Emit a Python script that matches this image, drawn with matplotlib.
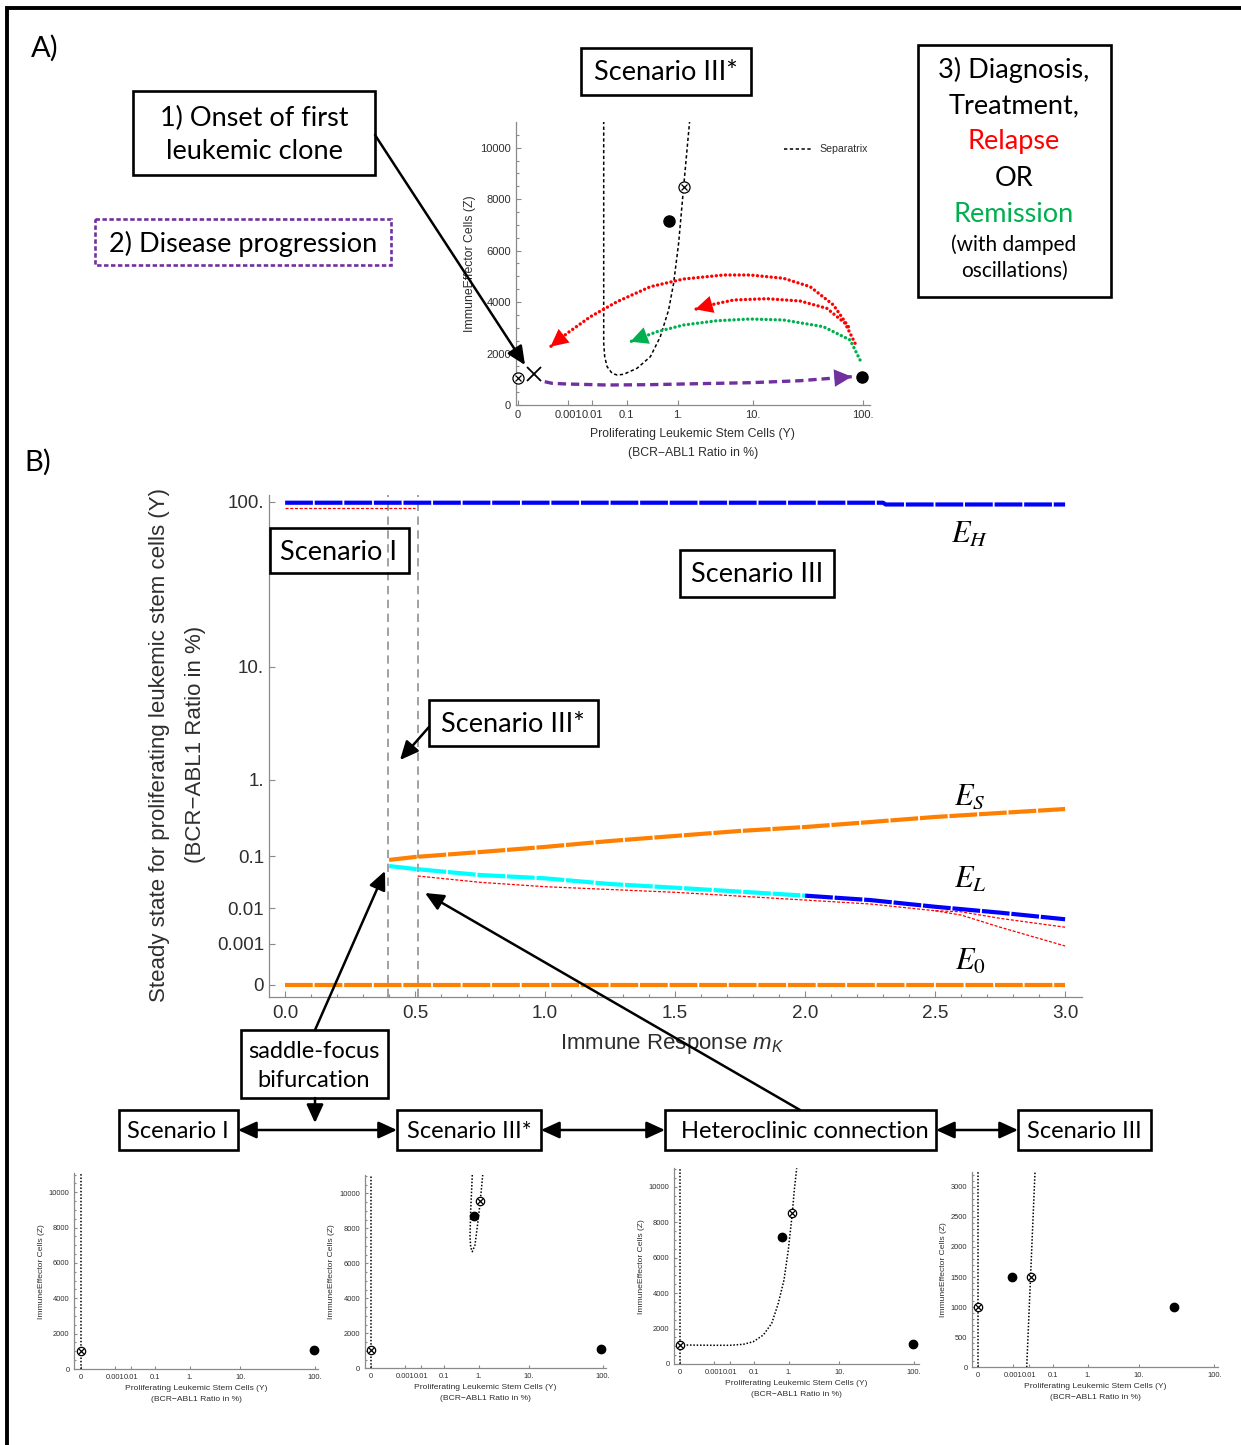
import numpy as np
import matplotlib.pyplot as plt
from matplotlib.patches import Rectangle
from matplotlib.ticker import FixedLocator, MultipleLocator, NullLocator

plt.rcParams['font.family'] = ['Liberation Sans', 'DejaVu Sans']
plt.rcParams['mathtext.fontset'] = 'custom'
plt.rcParams['mathtext.rm'] = 'Liberation Sans'
plt.rcParams['mathtext.it'] = 'Liberation Sans:italic'
plt.rcParams['lines.scale_dashes'] = False

W, H = 1241, 1445
BOX_FONT = ['Lato', 'DejaVu Sans']
GRAY = '#8a8a8a'
INK = '#2e2e2e'
ORANGE = '#ff8000'
PURPLE = '#7030a0'
GREEN = '#00b050'
RED = '#ff0000'

# ---- B) steady states of Y versus immune response m_K ----
mk_EH = [0.0, 0.5, 1.0, 1.5, 2.0, 2.3, 2.31, 2.5, 3.0]
Y_EH = [99, 99, 99, 99, 99, 99, 97, 97, 97]
mk_EH_unstable = [0.0, 0.25, 0.5]
Y_EH_unstable = [93, 93, 93]
mk_ES = [0.4, 0.5, 0.75, 1.0, 1.25, 1.5, 1.75, 2.0, 2.25, 2.5, 2.75, 3.0]
Y_ES = [0.087, 0.097, 0.116, 0.139, 0.170, 0.201, 0.236, 0.267, 0.311, 0.362, 0.407, 0.456]
mk_EL_saddle = [0.4, 0.5, 0.75, 1.0, 1.25, 1.5, 1.75, 2.0]
Y_EL_saddle = [0.0689, 0.0613, 0.0480, 0.0418, 0.0327, 0.0277, 0.0231, 0.0191]
mk_EL_focus = [2.0, 2.25, 2.5, 2.75, 3.0]
Y_EL_focus = [0.0191, 0.0154, 0.0109, 0.0079, 0.0054]
mk_EL_lo_a = [0.51, 0.75, 1.0, 1.5, 2.0, 2.25, 2.5, 2.6, 2.75, 3.0]
Y_EL_lo_a = [0.0461, 0.0352, 0.029, 0.0224, 0.0154, 0.0126, 0.0088, 0.0083, 0.0057, 0.0033]
mk_EL_lo_b = [2.5, 2.6, 2.75, 3.0]
Y_EL_lo_b = [0.0088, 0.0069, 0.0033, 0.00085]
mk_E0 = [0.0, 1.0, 2.0, 3.0]
Y_E0 = [1e-5, 1e-5, 1e-5, 1e-5]
mk_bifurcation = [0.397, 0.51]

ss_ticks = [1e-5, 0.001, 0.01, 0.1, 1, 10, 100]
ss_ticklabels = ['0', '0.001', '0.01', '0.1', '1.', '10.', '100.']

# ---- phase planes (Y, Z) ----
phase_ticks = [0, 0.001, 0.01, 0.1, 1, 10, 100]
phase_ticklabels = ['0', '0.001', '0.01', '0.1', '1.', '10.', '100.']

# A) scenario III*
sepA_Y = [0.0241, 0.0241, 0.0258, 0.0304, 0.0420, 0.0573, 0.0841, 0.171, 0.323, 0.498,
          0.699, 0.850, 1.027, 1.233, 1.422, 1.525]
sepA_Z = [11500, 2410, 1877, 1489, 1232, 1166, 1193, 1426, 1877, 2654,
          3692, 4730, 6284, 8461, 10171, 11010]
saddleA_Y = [0, 1.233]
saddleA_Z = [1061, 8461]
stableA_Y = [0.719, 98.8]
stableA_Z = [7151, 1100]
onset_Y = [1.1e-6]
onset_Z = [1205]
progression_Y = [2.4e-5, 1.0e-4, 8.8e-4, 0.0304, 0.323, 2.19, 9.33, 29.9, 81.9]
progression_Z = [906, 843, 816, 777, 790, 830, 867, 944, 1100]
relapse1_Y = [77.1, 58.4, 36.9, 20.8, 9.33, 4.49, 1.233, 0.323, 0.0573, 0.00882, 8.8e-4, 7.5e-5]
relapse1_Z = [3043, 3887, 4598, 4924, 5052, 5052, 4897, 4598, 4015, 3432, 2787, 2266]
relapse2_Y = [86.9, 72.6, 51.4, 29.9, 14.1, 5.97, 3.01, 1.85]
relapse2_Z = [2398, 3175, 3758, 4042, 4131, 4081, 3887, 3719]
remission_Y = [94.9, 79.5, 48.1, 20.8, 9.33, 3.70, 1.233, 0.433, 0.121]
remission_Z = [1749, 2526, 3043, 3304, 3342, 3276, 3109, 2849, 2460]

# bottom row: scenario I, III*, heteroclinic connection, III
axis_Y = [0, 0]
axis_Z = [0, 12000]
s1_saddle_Y, s1_saddle_Z = [0], [1036]
s1_stable_Y, s1_stable_Z = [98], [1092]

s2_sep_Y = [0.696, 0.633, 0.607, 0.633, 0.696, 0.815, 0.930, 1.040, 1.142, 1.252]
s2_sep_Z = [11046, 9046, 7520, 6914, 6663, 7046, 8091, 9046, 10000, 11046]
s2_saddle_Y, s2_saddle_Z = [0, 1.081], [1046, 9577]
s2_stable_Y, s2_stable_Z = [0.783, 96], [8720, 1120]

s3_sep_Y = [0, 8.3e-4, 0.00953, 0.0392, 0.0946, 0.204, 0.363, 0.550, 0.771, 0.983, 1.223, 1.359, 1.54]
s3_sep_Z = [1072, 1055, 1055, 1111, 1258, 1636, 2296, 3424, 4738, 6430, 8500, 9814, 11038]
s3_saddle_Y, s3_saddle_Z = [0, 1.223], [1072, 8500]
s3_stable_Y, s3_stable_Z = [0.699, 98], [7180, 1128]

s4_sep_Y = [0.00742, 0.0192]
s4_sep_Z = [0, 3250]
s4_saddle_Y, s4_saddle_Z = [0, 0.0117], [1000, 1500]
s4_stable_Y, s4_stable_Z = [8.0e-4, 32.4], [1500, 1000]


def root6(v):
    v = np.asarray(v, dtype=float)
    return np.sign(v) * np.abs(v) ** (1 / 6)


def pow6(t):
    t = np.asarray(t, dtype=float)
    return np.sign(t) * np.abs(t) ** 6


fig = plt.figure(figsize=(W / 100, H / 100), dpi=100)


def px_axes(left, top, right, bottom):
    return fig.add_axes([left / W, 1 - bottom / H, (right - left) / W, (bottom - top) / H])


def style_axes(ax, fs, major, minor):
    for s in ('top', 'right'):
        ax.spines[s].set_visible(False)
    for s in ('left', 'bottom'):
        ax.spines[s].set_color(GRAY)
        ax.spines[s].set_linewidth(0.9)
    ax.tick_params(which='both', direction='in', color=GRAY, labelcolor=INK, labelsize=fs, width=0.8)
    ax.tick_params(which='major', length=major)
    ax.tick_params(which='minor', length=minor)
    ax.patch.set_visible(False)


def phase_axes(left, top, right, bottom, zero, per_root, per_k, zmajor, zminor,
               fs_tick, fs_lab, tick_len, xpad=3):
    ax = px_axes(left, top, right, bottom)
    ax.set_xscale('function', functions=(root6, pow6))
    ax.set_xlim(float(pow6((left - zero) / per_root)), float(pow6((right - zero) / per_root)))
    ax.set_ylim(0, (bottom - top) / per_k * 1000)
    ax.xaxis.set_major_locator(FixedLocator(phase_ticks))
    ax.set_xticklabels(phase_ticklabels)
    ax.xaxis.set_minor_locator(NullLocator())
    ax.yaxis.set_major_locator(MultipleLocator(zmajor))
    ax.yaxis.set_minor_locator(MultipleLocator(zminor))
    style_axes(ax, fs_tick, tick_len, tick_len * 0.6)
    ax.set_xlabel('Proliferating Leukemic Stem Cells (Y)\n(BCR\u2212ABL1 Ratio in %)',
                  fontsize=fs_lab, color=INK, linespacing=1.75, labelpad=xpad)
    ax.set_ylabel('ImmuneEffector Cells (Z)', fontsize=fs_lab, color=INK, labelpad=3)
    return ax


def saddle(ax, y, z, ms):
    ax.plot(y, z, 'o', ms=ms, mfc='white', mec='k', mew=0.9, clip_on=False, zorder=5)
    ax.plot(y, z, 'x', ms=ms * 0.62, mec='k', mew=0.9, clip_on=False, zorder=6)


def stable(ax, y, z, ms):
    ax.plot(y, z, 'o', ms=ms, color='k', clip_on=False, zorder=5)


def trajectory(ax, y, z, color, lw, dashes, capstyle):
    ax.plot(y, z, color=color, lw=lw, dashes=dashes, dash_capstyle=capstyle)
    ax.annotate('', xy=(y[-1], z[-1]), xytext=(y[-2], z[-2]),
                arrowprops=dict(arrowstyle='-|>,head_length=0.9,head_width=0.45', color=color,
                                lw=0, mutation_scale=14, shrinkA=0, shrinkB=0))


# ---------------- panel A ----------------
axA = phase_axes(515.7, 122, 870, 405, 517.5, 160.4, 25.73, 2000, 500, 8, 8.8, 3.5, xpad=6)
axA.plot(sepA_Y, sepA_Z, color='k', lw=1.1, dashes=(2.4, 1.8), label='Separatrix')
trajectory(axA, progression_Y, progression_Z, PURPLE, 2.4, (6, 3.5), 'butt')
trajectory(axA, relapse1_Y, relapse1_Z, RED, 2.4, (0.1, 3.2), 'round')
trajectory(axA, relapse2_Y, relapse2_Z, RED, 2.4, (0.1, 3.2), 'round')
trajectory(axA, remission_Y, remission_Z, GREEN, 2.4, (0.1, 3.2), 'round')
saddle(axA, saddleA_Y, saddleA_Z, 8)
stable(axA, stableA_Y, stableA_Z, 8)
axA.plot(onset_Y, onset_Z, 'x', ms=10, mec='k', mew=1.3, clip_on=False, zorder=6)
axA.legend(loc='upper left', bbox_to_anchor=(0.73, 0.955), frameon=False, fontsize=7.6,
           handlelength=2.8, handletextpad=0.6, labelcolor=INK)

# ---------------- panel B ----------------
axB = px_axes(269, 495, 1082, 997)
axB.set_yscale('function', functions=(root6, pow6))
axB.set_xlim(-0.062, 3.065)
axB.set_ylim(float(pow6(23 / 240.5)), float(pow6(525 / 240.5)))
axB.yaxis.set_major_locator(FixedLocator(ss_ticks))
axB.set_yticklabels(ss_ticklabels)
axB.yaxis.set_minor_locator(NullLocator())
axB.xaxis.set_major_locator(MultipleLocator(0.5))
axB.xaxis.set_minor_locator(MultipleLocator(0.1))
axB.xaxis.set_major_formatter('{x:.1f}')
style_axes(axB, 13.6, 4, 2.5)
axB.tick_params(axis='x', pad=6)


def band(x, y, color):
    axB.plot(x, y, color=color, lw=3.0, dashes=(20, 1.3), dash_capstyle='butt', zorder=3)


def thin(x, y):
    axB.plot(x, y, color=RED, lw=0.9, dashes=(2.2, 1.2), zorder=4)


for m in mk_bifurcation:
    axB.axvline(m, color='#9a9a9a', lw=1.3, dashes=(6, 4), zorder=1)
band(mk_EH, Y_EH, 'blue')
thin(mk_EH_unstable, Y_EH_unstable)
band(mk_ES, Y_ES, ORANGE)
band(mk_EL_saddle, Y_EL_saddle, 'cyan')
band(mk_EL_focus, Y_EL_focus, 'blue')
thin(mk_EL_lo_a, Y_EL_lo_a)
thin(mk_EL_lo_b, Y_EL_lo_b)
band(mk_E0, Y_E0, ORANGE)

# ---------------- bottom phase planes ----------------
small = dict(fs_tick=5.4, fs_lab=6.1, tick_len=2.5)
ax1 = phase_axes(74.3, 1173.3, 318, 1369, 80.7, 108.8, 17.67, 2000, 500, **small)
ax2 = phase_axes(365, 1175, 606, 1368.3, 371, 107.6, 17.5, 2000, 500, **small)
ax3 = phase_axes(674.3, 1168.3, 919, 1364, 680, 108.6, 17.73, 2000, 500, **small)
ax4 = phase_axes(972.3, 1171.7, 1218, 1367.3, 978.3, 109.6, 60.2, 500, 100, **small)
dots = (1.1, 1.3)
for ax in (ax1, ax2, ax3, ax4):
    ax.plot(axis_Y, axis_Z, color='k', lw=1.1, dashes=dots)
ax2.plot(s2_sep_Y, s2_sep_Z, color='k', lw=1.1, dashes=dots)
ax3.plot(s3_sep_Y, s3_sep_Z, color='k', lw=1.1, dashes=dots)
ax4.plot(s4_sep_Y, s4_sep_Z, color='k', lw=1.1, dashes=dots)
for ax, sy, sz, fy, fz in ((ax1, s1_saddle_Y, s1_saddle_Z, s1_stable_Y, s1_stable_Z),
                           (ax2, s2_saddle_Y, s2_saddle_Z, s2_stable_Y, s2_stable_Z),
                           (ax3, s3_saddle_Y, s3_saddle_Z, s3_stable_Y, s3_stable_Z),
                           (ax4, s4_saddle_Y, s4_saddle_Z, s4_stable_Y, s4_stable_Z)):
    saddle(ax, sy, sz, 6)
    stable(ax, fy, fz, 6)

# ---------------- overlay: frame, boxes, arrows, labels ----------------
ov = fig.add_axes([0, 0, 1, 1], zorder=10)
ov.set_xlim(0, W)
ov.set_ylim(H, 0)
ov.axis('off')

ov.plot([7, 7, W], [H, 8, 8], color='k', lw=2.8, solid_joinstyle='miter')


def frame(x0, y0, x1, y1, ec='k', ls='-'):
    ov.add_patch(Rectangle((x0, y0), x1 - x0, y1 - y0, fill=False, ec=ec, lw=1.9, ls=ls,
                           joinstyle='miter'))


def label(x, y, s, size, color='k', spacing=1.15):
    ov.text(x, y, s, ha='center', va='center', fontsize=size, color=color, family=BOX_FONT,
            linespacing=spacing)


def arrow(p0, p1, style='-|>'):
    ov.annotate('', xy=p1, xytext=p0,
                arrowprops=dict(arrowstyle=style + ',head_length=0.7,head_width=0.32', color='k',
                                lw=1.8, mutation_scale=16, shrinkA=0, shrinkB=0))


ov.text(45, 48, 'A)', ha='center', va='center', fontsize=21, family=BOX_FONT)
ov.text(38, 462, 'B)', ha='center', va='center', fontsize=21, family=BOX_FONT)

frame(133, 91, 375, 175)
label(254, 135, '1) Onset of first\nleukemic clone', 19.5, spacing=1.38)
frame(95, 219, 391, 265, ec=PURPLE, ls=(0, (3.2, 1.8)))
label(243, 244, '2) Disease progression', 19.5)
frame(581, 48, 751, 95)
label(666, 73, 'Scenario III*', 19.5)
frame(918, 45, 1111, 297)
for yy, s, c, fs in ((70, '3) Diagnosis,', 'k', 19.5), (106, 'Treatment,', 'k', 19.5),
                     (142, 'Relapse', RED, 19.5), (178, 'OR', 'k', 19.5),
                     (214, 'Remission', GREEN, 19.5), (245, '(with damped', 'k', 15),
                     (271, 'oscillations)', 'k', 15)):
    label(1014, yy, s, fs, c)
arrow((375, 135), (525, 365))

frame(270, 528, 409, 573)
label(339, 552, 'Scenario I', 19.5)
frame(680, 550, 834, 597)
label(757, 575, 'Scenario III', 19.5)
frame(429, 700, 598, 746)
label(513, 724, 'Scenario III*', 19.5)
arrow((429, 727), (400, 760))

ov.text(160, 745, 'Steady state for proliferating leukemic stem cells (Y)', rotation=90,
        ha='center', va='center', fontsize=16, color=INK)
ov.text(195, 744, '(BCR\u2212ABL1 Ratio in %)', rotation=90, ha='center', va='center',
        fontsize=16, color=INK)
ov.text(672, 1044, 'Immune Response $m_K$', ha='center', va='center', fontsize=16, color=INK)
for yy, s in ((535, r'$E_H$'), (797, r'$E_S$'), (880, r'$E_L$'), (962, r'$E_0$')):
    ov.text(970, yy, s, ha='center', va='center', fontsize=22, math_fontfamily='stix')

frame(241, 1030, 388, 1098)
label(314, 1066, 'saddle-focus\nbifurcation', 17, spacing=1.45)
arrow((315, 1030), (385, 871))
arrow((800, 1110), (425, 893))
arrow((315, 1098), (315, 1123))

frame(119, 1110, 238, 1150)
label(178, 1131, 'Scenario I', 17)
frame(397, 1110, 541, 1150)
label(469, 1131, 'Scenario III*', 17)
frame(665, 1110, 936, 1150)
label(805, 1131, 'Heteroclinic connection', 17)
frame(1018, 1110, 1151, 1150)
label(1084, 1131, 'Scenario III', 17)
arrow((238, 1130), (397, 1130), '<|-|>')
arrow((541, 1130), (665, 1130), '<|-|>')
arrow((936, 1130), (1018, 1130), '<|-|>')

fig.savefig('out.png', dpi=100)
